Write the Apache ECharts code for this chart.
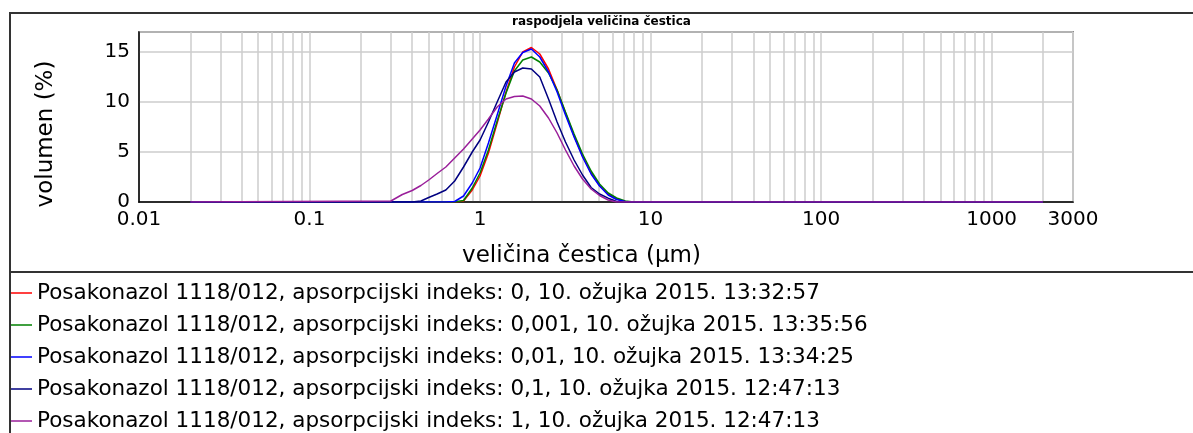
<!DOCTYPE html>
<html>
<head>
<meta charset="utf-8">
<script src="https://cdn.jsdelivr.net/npm/echarts@6/dist/echarts.min.js"></script>
<style>
  html, body { margin: 0; padding: 0; background: #fff; }
  #chart { width: 1193px; height: 433px; }
</style>
</head>
<body>
<div id="chart"></div>
<script>
// particle size classes (µm)
var sizes = [0.02, 0.3, 0.35, 0.4, 0.45, 0.5, 0.56, 0.63, 0.71, 0.8, 0.9, 1.0, 1.12, 1.26, 1.42, 1.59, 1.78, 2.0, 2.24, 2.52, 2.83, 3.17, 3.56, 3.99, 4.48, 5.02, 5.64, 6.32, 7.1, 7.96, 2000];

// volumen (%) per run
var idx0 = [0, 0, 0, 0, 0, 0, 0, 0, 0, 0.1, 1.2, 2.6, 4.9, 7.9, 11.0, 13.5, 15.0, 15.45, 14.8, 13.3, 11.2, 8.9, 6.6, 4.6, 2.9, 1.65, 0.8, 0.3, 0.05, 0, 0];
var idx0001 = [0, 0, 0, 0, 0, 0, 0, 0, 0, 0.15, 1.4, 2.9, 5.2, 8.1, 10.9, 13.1, 14.2, 14.5, 14.0, 12.9, 11.2, 9.0, 6.8, 4.8, 3.1, 1.8, 0.9, 0.4, 0.1, 0, 0];
var idx001 = [0, 0, 0, 0, 0, 0, 0, 0, 0.05, 0.6, 1.9, 3.4, 5.9, 8.7, 11.6, 13.9, 14.95, 15.3, 14.5, 13.0, 11.0, 8.7, 6.5, 4.5, 2.8, 1.6, 0.7, 0.25, 0.05, 0, 0];
var idx01 = [0, 0, 0, 0, 0.1, 0.45, 0.8, 1.2, 2.1, 3.5, 5.0, 6.2, 8.0, 10.0, 12.0, 13.0, 13.4, 13.3, 12.5, 10.3, 8.0, 6.0, 4.2, 2.7, 1.45, 0.8, 0.38, 0.05, 0, 0, 0];
var idx1 = [0, 0.1, 0.75, 1.15, 1.65, 2.2, 2.85, 3.5, 4.4, 5.3, 6.3, 7.2, 8.3, 9.5, 10.3, 10.55, 10.6, 10.3, 9.6, 8.4, 6.9, 5.2, 3.6, 2.3, 1.3, 0.65, 0.2, 0, 0, 0, 0];

var seriesNames = [
  "Posakonazol 1118/012, apsorpcijski indeks: 0, 10. ožujka 2015. 13:32:57",
  "Posakonazol 1118/012, apsorpcijski indeks: 0,001, 10. ožujka 2015. 13:35:56",
  "Posakonazol 1118/012, apsorpcijski indeks: 0,01, 10. ožujka 2015. 13:34:25",
  "Posakonazol 1118/012, apsorpcijski indeks: 0,1, 10. ožujka 2015. 12:47:13",
  "Posakonazol 1118/012, apsorpcijski indeks: 1, 10. ožujka 2015. 12:47:13"
];
var seriesColors = ["#ff0000", "#008000", "#0000ff", "#000080", "#9a1f9a"];

var xTickValues = [0.01, 0.1, 1, 10, 100, 1000, 3000];
var xTickLabels = ["0.01", "0.1", "1", "10", "100", "1000", "3000"];
var yTickValues = [0, 5, 10, 15];

var FONT = "DejaVu Sans";

// log grid positions: 1..9 x each decade
var gridLogs = [];
for (var d = -2; d <= 3; d++) {
  for (var k = 1; k <= 9; k++) {
    var v = k * Math.pow(10, d);
    if (v <= 3000) gridLogs.push(Math.log10(v));
  }
}
gridLogs.push(Math.log10(3000));

var allData = [idx0, idx0001, idx001, idx01, idx1];
var series = [];
for (var i = 0; i < allData.length; i++) {
  var pts = [];
  for (var j = 0; j < sizes.length; j++) {
    pts.push([Math.log10(sizes[j]), allData[i][j]]);
  }
  series.push({
    name: seriesNames[i],
    type: "line",
    symbol: "none",
    showSymbol: false,
    animation: false,
    lineStyle: { color: seriesColors[i], width: 1.5 },
    itemStyle: { color: seriesColors[i] },
    data: pts
  });
}

var chart = echarts.init(document.getElementById("chart"), null, { renderer: "canvas" });

var option = {
  backgroundColor: "#ffffff",
  animation: false,
  title: {
    text: "raspodjela veličina čestica",
    left: 512,
    top: 16,
    padding: 0,
    textStyle: { fontFamily: FONT, fontSize: 12, fontWeight: "bold", color: "#000" }
  },
  grid: {
    left: 139,
    right: 120,
    top: 32,
    bottom: 231,
    show: true,
    borderColor: "#333",
    borderWidth: 1.5,
    backgroundColor: "#fff",
    outerBoundsMode: "none"
  },
  legend: {
    orient: "vertical",
    left: 9,
    top: 282,
    height: 220,
    padding: 0,
    icon: "rect",
    itemWidth: 23,
    itemHeight: 1.5,
    itemGap: 10,
    textStyle: { fontFamily: FONT, fontSize: 21.5, color: "#000", lineHeight: 22 },
    data: seriesNames
  },
  xAxis: {
    type: "value",
    min: -2,
    max: Math.log10(3000),
    name: "veličina čestica (µm)",
    nameLocation: "middle",
    nameGap: 43,
    nameTextStyle: { fontFamily: FONT, fontSize: 23, color: "#000", padding: [0, 49, 0, 0] },
    axisLine: { show: true, onZero: false, lineStyle: { color: "#000", width: 1.5 } },
    axisTick: { show: false, customValues: gridLogs },
    axisLabel: {
      customValues: xTickValues.map(function (v) { return Math.log10(v); }),
      margin: 8,
      fontFamily: FONT,
      fontSize: 20,
      color: "#000",
      formatter: function (val) {
        for (var i = 0; i < xTickValues.length; i++) {
          if (Math.abs(Math.log10(xTickValues[i]) - val) < 1e-6) return xTickLabels[i];
        }
        return "";
      }
    },
    splitLine: { show: true, lineStyle: { color: "#cccccc", width: 1.5 } }
  },
  yAxis: {
    type: "value",
    min: 0,
    max: 17,
    interval: 5,
    name: "volumen (%)",
    nameLocation: "middle",
    nameGap: 81,
    nameTextStyle: { fontFamily: FONT, fontSize: 23, color: "#000", padding: [0, 34, 0, 0] },
    axisLine: { show: true, onZero: false, lineStyle: { color: "#000", width: 1.5 } },
    axisTick: { show: false },
    axisLabel: {
      customValues: yTickValues,
      margin: 9,
      fontFamily: FONT,
      fontSize: 20,
      color: "#000"
    },
    splitLine: { show: true, lineStyle: { color: "#cccccc", width: 1.5 } }
  },
  graphic: [
    {
      type: "polyline",
      silent: true,
      z: 100,
      shape: { points: [[10, 433], [10, 13], [1193, 13]] },
      style: { stroke: "#333", lineWidth: 2, fill: null }
    },
    {
      type: "line",
      silent: true,
      z: 100,
      shape: { x1: 9, y1: 272, x2: 1193, y2: 272 },
      style: { stroke: "#333", lineWidth: 2 }
    }
  ],
  series: series
};

chart.setOption(option);
</script>
</body>
</html>
